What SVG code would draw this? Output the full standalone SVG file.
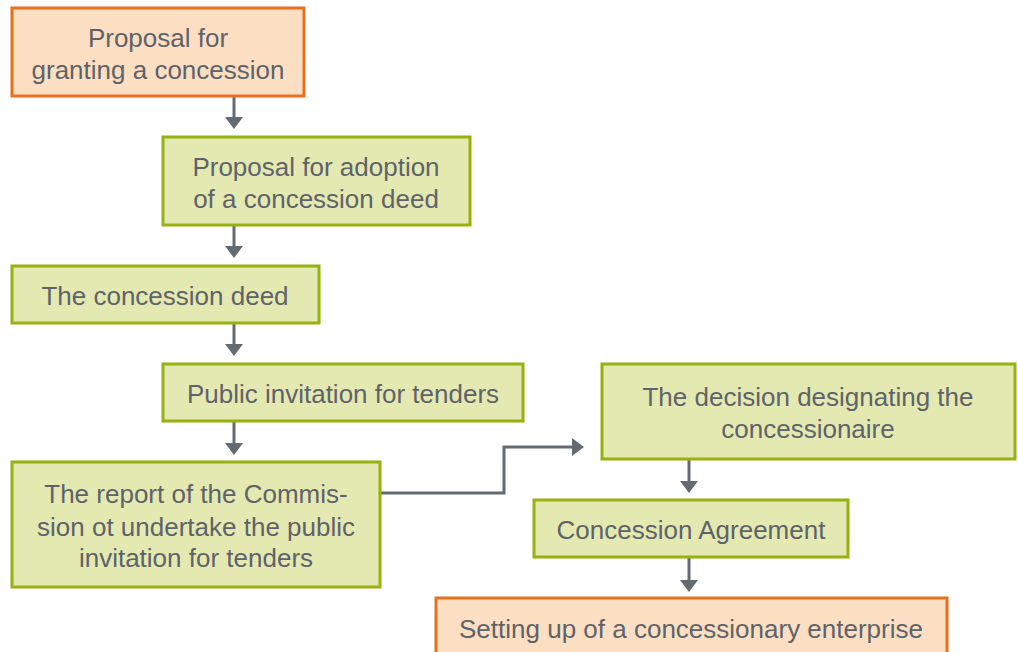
<svg xmlns="http://www.w3.org/2000/svg" width="1018" height="652" viewBox="0 0 1018 652">
<style>
.g{fill:#e3e9b1;stroke:#96b20e;stroke-width:3}
.o{fill:#fcdfc3;stroke:#e8701c;stroke-width:3}
text{font-family:"Liberation Sans",Arial,sans-serif;font-size:26px;fill:#5f6369;text-anchor:middle}
.c{fill:none;stroke:#646a72;stroke-width:3}
</style>
<defs>
<marker id="ah" viewBox="0 0 12 20" refX="4" refY="10" markerWidth="12" markerHeight="20" markerUnits="userSpaceOnUse" orient="auto">
<path d="M0,1 L12,10 L0,19 z" fill="#646a72"/>
</marker>
</defs>
<g id="connectors">
<path class="c" d="M234,97 V121" marker-end="url(#ah)"/>
<path class="c" d="M234,225 V250" marker-end="url(#ah)"/>
<path class="c" d="M234,323 V348" marker-end="url(#ah)"/>
<path class="c" d="M234,422 V447" marker-end="url(#ah)"/>
<path class="c" d="M380,493 H504 V447 H576" marker-end="url(#ah)"/>
<path class="c" d="M689,459 V485" marker-end="url(#ah)"/>
<path class="c" d="M689,558 V584" marker-end="url(#ah)"/>
</g>
<g id="n1"><rect class="o" x="12" y="8" width="292" height="88"/><text x="158" y="47">Proposal for</text><text x="158" y="79">granting a concession</text></g>
<g id="n2"><rect class="g" x="163" y="137" width="307" height="88"/><text x="316" y="176">Proposal for adoption</text><text x="316" y="208">of a concession deed</text></g>
<g id="n3"><rect class="g" x="12" y="266" width="307" height="57"/><text x="165" y="305">The concession deed</text></g>
<g id="n4"><rect class="g" x="163" y="364" width="360" height="57"/><text x="343" y="403">Public invitation for tenders</text></g>
<g id="n5"><rect class="g" x="12" y="462" width="368" height="125"/><text x="196" y="503">The report of the Commis-</text><text x="196" y="536">sion ot undertake the public</text><text x="196" y="567">invitation for tenders</text></g>
<g id="n6"><rect class="g" x="602" y="364" width="413" height="95"/><text x="808" y="406">The decision designating the</text><text x="808" y="438">concessionaire</text></g>
<g id="n7"><rect class="g" x="534" y="500" width="314" height="57"/><text x="691" y="539">Concession Agreement</text></g>
<g id="n8"><rect class="o" x="436" y="598" width="511" height="70"/><text x="691" y="638">Setting up of a concessionary enterprise</text></g>
</svg>
